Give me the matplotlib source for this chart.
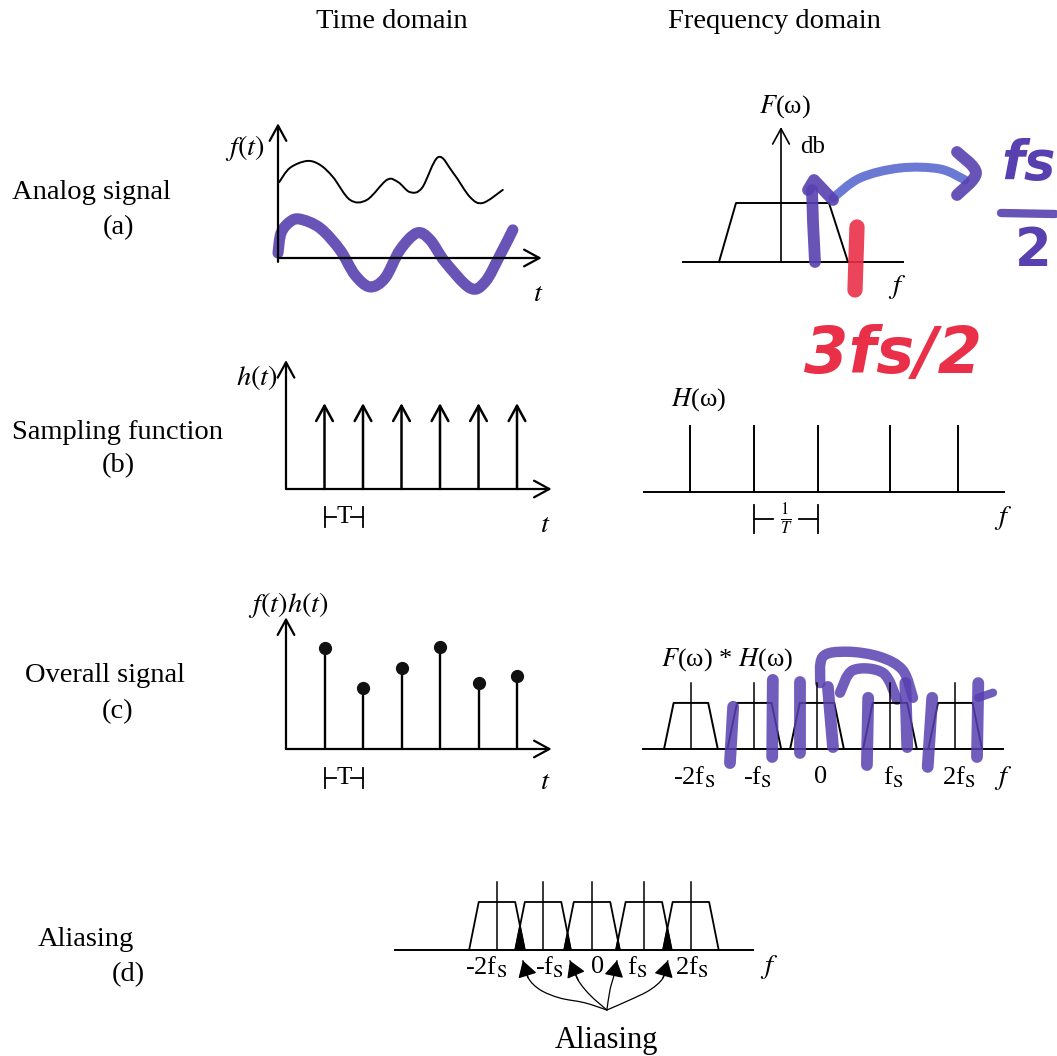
import numpy as np
import matplotlib
matplotlib.use("Agg")
import matplotlib.pyplot as plt
from matplotlib.path import Path
from matplotlib.patches import PathPatch, Polygon

W, H = 1057, 1056
plt.rcParams['font.family'] = ['Liberation Serif', 'DejaVu Serif']
plt.rcParams['mathtext.fontset'] = 'stix'

# ------------------------------------------------------------------ data
headers = ["Time domain", "Frequency domain"]
row_names = ["Analog signal", "Sampling function", "Overall signal", "Aliasing"]
row_tags = ["(a)", "(b)", "(c)", "(d)"]

# (a) analog signal f(t) (t in units of T)
sig_t = [0.03, 0.31, 0.75, 1.09, 1.43, 1.87, 2.31, 2.83, 3.12, 3.43, 3.74, 4.16, 4.55, 4.99, 5.32, 5.84]
sig_v = [1.97, 2.34, 2.52, 2.42, 2.10, 1.51, 1.51, 2.03, 1.97, 1.71, 1.82, 2.62, 2.21, 1.58, 1.43, 1.77]
# purple hand-drawn sinusoid over panel (a)
pen_t = [0.0, 0.08, 0.31, 0.57, 1.09, 1.61, 2.0, 2.39, 2.78, 3.17, 3.61, 3.95, 4.34, 4.99, 5.38, 5.77, 6.10]
pen_v = [0.13, 0.65, 0.94, 1.01, 0.78, 0.21, -0.44, -0.75, -0.52, 0.21, 0.65, 0.47, -0.10, -0.78, -0.62, 0.08, 0.73]

# (a) spectrum F(w): trapezoid corners (f, level)
spec_f = [-3.1, -2.25, 2.4, 3.35]
spec_v = [0.0, 2.95, 2.95, 0.0]

# (b) sampling function: impulses at n*T
sample_n = [1, 2, 3, 4, 5, 6]
impulse_height = 2.23
comb_f = [-2.0, -1.0, 0.0, 1.12, 2.19]
comb_height = 1.05

# (c) sampled values f(nT)
sample_vals = [2.62, 1.58, 2.10, 2.65, 1.71, 1.90]
rep_c = [-1.97, -0.98, 0.0, 1.14, 2.16]
rep_labels = [r"-2f$_\mathrm{S}$", r"-f$_\mathrm{S}$", "0", r"f$_\mathrm{S}$", r"2f$_\mathrm{S}$"]

# (d) aliased replicas
rep_d = [-1.98, -1.02, 0.0, 1.08, 2.06]

PURPLE = '#5840b0'
BLUE = '#5a6bd0'
RED = '#ea3049'

fig = plt.figure(figsize=(W / 100, H / 100), dpi=100)
fig.patch.set_facecolor('white')


def panel(ox, oy, sx, sy, xlim, ylim):
    l = ox + xlim[0] * sx
    r = ox + xlim[1] * sx
    t = oy - ylim[1] * sy
    b = oy - ylim[0] * sy
    ax = fig.add_axes([l / W, 1 - b / H, (r - l) / W, (b - t) / H])
    ax.set_xlim(*xlim)
    ax.set_ylim(*ylim)
    ax.axis('off')
    return ax


def smooth_path(xs, ys):
    P = np.column_stack([xs, ys]).astype(float)
    Q = np.vstack([P[0], P, P[-1]])
    verts = [P[0]]
    codes = [Path.MOVETO]
    for i in range(1, len(Q) - 2):
        p0, p1, p2, p3 = Q[i - 1], Q[i], Q[i + 1], Q[i + 2]
        verts += [p1 + (p2 - p0) / 6, p2 - (p3 - p1) / 6, p2]
        codes += [Path.CURVE4] * 3
    return Path(verts, codes)


def stroke(ax, xs, ys, color, lw, alpha=0.9, smooth=True):
    if smooth and len(xs) > 2:
        p = PathPatch(smooth_path(xs, ys), fill=False, ec=color, lw=lw, alpha=alpha,
                      capstyle='round', joinstyle='round', clip_on=False)
        ax.add_patch(p)
    else:
        ax.plot(xs, ys, color=color, lw=lw, alpha=alpha, solid_capstyle='round',
                clip_on=False)


def arrow(ax, x0, y0, x1, y1, lw=1.6, hl=0.55, hw=0.3, ms=20):
    ax.annotate("", xy=(x1, y1), xytext=(x0, y0), annotation_clip=False,
                arrowprops=dict(arrowstyle=f"->,head_length={hl},head_width={hw}",
                                lw=lw, color='k', shrinkA=0, shrinkB=0,
                                mutation_scale=ms))


def bracket(ax, a, b, y, h, label, fs=15):
    ax.plot([a, a], [y - h, y + h], color='k', lw=1.3, clip_on=False)
    ax.plot([b, b], [y - h, y + h], color='k', lw=1.3, clip_on=False)
    m = (a + b) / 2
    d = (b - a) * 0.2
    ax.plot([a, m - d], [y, y], color='k', lw=1.3, clip_on=False)
    ax.plot([m + d, b], [y, y], color='k', lw=1.3, clip_on=False)
    ax.text(m, y, label, ha='center', va='center', fontsize=fs)


# ------------------------------------------------------------------ text
FS = 20.5
fig.text(392 / W, 1 - 21 / H, headers[0], ha='center', va='center', fontsize=FS)
fig.text(774 / W, 1 - 21 / H, headers[1], ha='center', va='center', fontsize=FS)
for name, tag, (nx, ny), (tx, ty) in zip(
        row_names, row_tags,
        [(12, 192), (12, 432), (25, 675), (38, 940)],
        [(118, 228), (118, 466), (118, 712), (128, 975)]):
    fig.text(nx / W, 1 - ny / H, name, ha='left', va='center', fontsize=FS)
    fig.text(tx / W, 1 - ty / H, tag, ha='center', va='center', fontsize=FS)

S = 38.5  # px per T

# ------------------------------------------------------------------ (a) time
ax = panel(278, 258, S, S, (0, 6.8), (-0.9, 3.4))
arrow(ax, 0, -0.1, 0, 3.5)
arrow(ax, 0, 0, 6.85, 0)
stroke(ax, sig_t, sig_v, 'k', 1.4, alpha=1)
stroke(ax, pen_t, pen_v, PURPLE, 8, alpha=0.9)
ax.text(-0.86, 2.86, r"$f(t)$", ha='center', va='center', fontsize=FS)
ax.text(6.75, -0.96, r"$t$", ha='center', va='center', fontsize=FS)

# ------------------------------------------------------------------ (b) time
ax = panel(286, 489, S, S, (0, 6.9), (-1.0, 3.3))
arrow(ax, 0, 0, 0, 3.35)
arrow(ax, 0, 0, 6.9, 0)
for n in sample_n:
    arrow(ax, n, 0, n, impulse_height, lw=1.8)
bracket(ax, sample_n[0], sample_n[1], -0.73, 0.26, "T", fs=18)
ax.text(-0.75, 2.9, r"$h(t)$", ha='center', va='center', fontsize=FS)
ax.text(6.73, -0.94, r"$t$", ha='center', va='center', fontsize=FS)

# ------------------------------------------------------------------ (c) time
ax = panel(286, 749, S, S, (0, 6.9), (-1.0, 3.4))
arrow(ax, 0, 0, 0, 3.42)
arrow(ax, 0, 0, 6.9, 0)
ax.vlines(sample_n, 0, sample_vals, color='k', lw=1.7)
ax.plot(sample_n, sample_vals, 'o', color='#111111', ms=8.5, clip_on=False)
bracket(ax, sample_n[0], sample_n[1], -0.75, 0.26, "T", fs=18)
ax.text(0.05, 3.74, r"$f(t)h(t)$", ha='center', va='center', fontsize=FS)
ax.text(6.73, -0.88, r"$t$", ha='center', va='center', fontsize=FS)

# ------------------------------------------------------------------ (a) frequency
U = 20.0
ax = panel(781, 262, U, U, (-4.9, 6.1), (-0.2, 6.7))
ax.plot([-4.9, 6.1], [0, 0], color='k', lw=1.4, clip_on=False)
arrow(ax, 0, 0, 0, 6.75, lw=1.2)
ax.plot(spec_f, spec_v, color='k', lw=1.4, clip_on=False)
ax.text(0.2, 7.75, "$F$(ω)", ha='center', va='center', fontsize=19)
ax.text(1.6, 5.75, "db", ha='center', va='center', fontsize=18)
ax.text(5.8, -1.25, r"$f$", ha='center', va='center', fontsize=FS)
# hand-written annotations
stroke(ax, [1.7, 1.6, 1.55], [0.0, 2.0, 3.6], PURPLE, 8.5, smooth=False)
stroke(ax, [1.35, 1.65, 2.6], [3.6, 4.1, 3.1], PURPLE, 8.5, smooth=False)
stroke(ax, [2.6, 3.95, 5.95, 7.95, 9.2], [3.2, 4.2, 4.7, 4.65, 4.1], BLUE, 6.5)
stroke(ax, [8.8, 9.75, 8.8], [5.5, 4.45, 3.35], PURPLE, 8.5)
ax.text(12.4, 4.9, "fs", ha='center', va='center', fontsize=38, color=PURPLE,
        fontweight='bold', family='DejaVu Sans', style='italic')
stroke(ax, [11.0, 13.7], [2.45, 2.4], PURPLE, 6, smooth=False)
ax.text(12.6, 0.55, "2", ha='center', va='center', fontsize=38, color=PURPLE,
        fontweight='bold', family='DejaVu Sans')
stroke(ax, [3.8, 3.75, 3.7], [1.75, 0.2, -1.4], RED, 11, smooth=False)
ax.text(5.6, -4.65, "3fs/2", ha='center', va='center', fontsize=46, color=RED,
        fontweight='bold', family='DejaVu Sans', style='italic')

# ------------------------------------------------------------------ (b) frequency
F = 64.0
ax = panel(818, 492, F, F, (-2.72, 2.9), (-0.6, 1.5))
ax.plot([-2.72, 2.9], [0, 0], color='k', lw=1.4, clip_on=False)
ax.vlines(comb_f, 0, comb_height, color='k', lw=1.4)
bracket(ax, comb_f[1], comb_f[2], -0.42, 0.22, r"$\frac{1}{T}$", fs=17)
ax.text(-1.87, 1.44, "$H$(ω)", ha='center', va='center', fontsize=19)
ax.text(2.89, -0.4, r"$f$", ha='center', va='center', fontsize=FS)

# ------------------------------------------------------------------ (c) frequency
ax = panel(817, 749, F, F, (-2.72, 2.9), (-0.6, 1.5))
ax.plot([-2.72, 2.9], [0, 0], color='k', lw=1.4, clip_on=False)
tb, tt, th = 0.42, 0.27, 0.72
for c, lab in zip(rep_c, rep_labels):
    ax.plot([c - tb, c - tt, c + tt, c + tb], [0, th, th, 0], color='k', lw=1.4,
            clip_on=False)
    ax.plot([c, c], [0, 1.03], color='k', lw=1.1, clip_on=False)
    ax.text(c + 0.05, -0.44, lab, ha='center', va='center', fontsize=19)
ax.text(-1.41, 1.39, "$F$(ω) * $H$(ω)", ha='center', va='center', fontsize=19)
ax.text(2.91, -0.46, r"$f$", ha='center', va='center', fontsize=FS)
# purple scribbles
marks_c = [((-1.31, -1.36), (0.66, -0.22)), ((-0.69, -0.70), (1.08, -0.125)),
           ((-0.27, -0.27), (1.05, -0.06)), ((0.17, 0.25), (0.97, 0.03)),
           ((0.80, 0.78), (0.80, -0.25)), ((1.38, 1.41), (1.03, 0.03)),
           ((1.80, 1.73), (0.80, -0.28)), ((2.52, 2.50), (1.03, -0.125))]
for xs, ys in marks_c:
    stroke(ax, list(xs), list(ys), PURPLE, 8.5, alpha=0.85, smooth=False)
stroke(ax, [0.05, 0.09, 0.47, 0.98, 1.34, 1.5], [1.03, 1.44, 1.52, 1.44, 1.23, 0.8],
       PURPLE, 7.5, alpha=0.85)
stroke(ax, [0.36, 0.56, 1.03, 1.25], [0.88, 1.23, 1.19, 0.77], PURPLE, 7.5, alpha=0.85)
stroke(ax, [2.52, 2.75], [0.8, 0.88], PURPLE, 6, alpha=0.85, smooth=False)

# ------------------------------------------------------------------ (d) aliasing
D = 48.0
ax = panel(592, 950, D, D, (-4.1, 3.35), (-2.2, 1.6))
ax.plot([-4.1, 3.35], [0, 0], color='k', lw=1.4, clip_on=False)
db, dt, dh = 0.58, 0.38, 1.0
for c, lab in zip(rep_d, rep_labels):
    ax.plot([c - db, c - dt, c + dt, c + db], [0, dh, dh, 0], color='k', lw=1.3,
            clip_on=False)
    ax.plot([c, c], [0, 1.42], color='k', lw=1.1, clip_on=False)
for c0, c1 in zip(rep_d[:-1], rep_d[1:]):
    a0, a1 = c0 + db, c1 - db
    s = (db - dt) / dh
    y = (a0 - a1) / (2 * s)
    xm = a0 - s * y
    ax.add_patch(Polygon([(a1, 0), (a0, 0), (xm, y)], closed=True, color='k'))
lab_x = [-2.2, -0.88, 0.12, 0.95, 2.08]
for x, lab in zip(lab_x, rep_labels):
    ax.text(x, -0.35, lab, ha='center', va='center', fontsize=19)
ax.text(3.7, -0.35, r"$f$", ha='center', va='center', fontsize=FS)
alias_paths = [
    ([0.31, -0.15, -0.67, -1.08, -1.33, -1.44], [-1.25, -1.10, -1.0, -0.83, -0.58, -0.22]),
    ([0.31, -0.04, -0.29, -0.46], [-1.25, -0.94, -0.625, -0.22]),
    ([0.31, 0.375, 0.46, 0.52], [-1.25, -0.83, -0.52, -0.22]),
    ([0.31, 0.79, 1.21, 1.48, 1.58], [-1.25, -1.04, -0.83, -0.58, -0.22]),
]
for xs, ys in alias_paths:
    stroke(ax, xs, ys, 'k', 0.9, alpha=1)
    ax.annotate("", xy=(xs[-1], ys[-1]), xytext=(xs[-2], ys[-2]),
                annotation_clip=False,
                arrowprops=dict(arrowstyle="-|>,head_length=0.5,head_width=0.3",
                                color='k', lw=0.9, shrinkA=0, shrinkB=0,
                                mutation_scale=20))
ax.text(0.31, -1.88, "Aliasing", ha='center', va='center', fontsize=22)

fig.savefig("out.png", dpi=100, facecolor='white')
